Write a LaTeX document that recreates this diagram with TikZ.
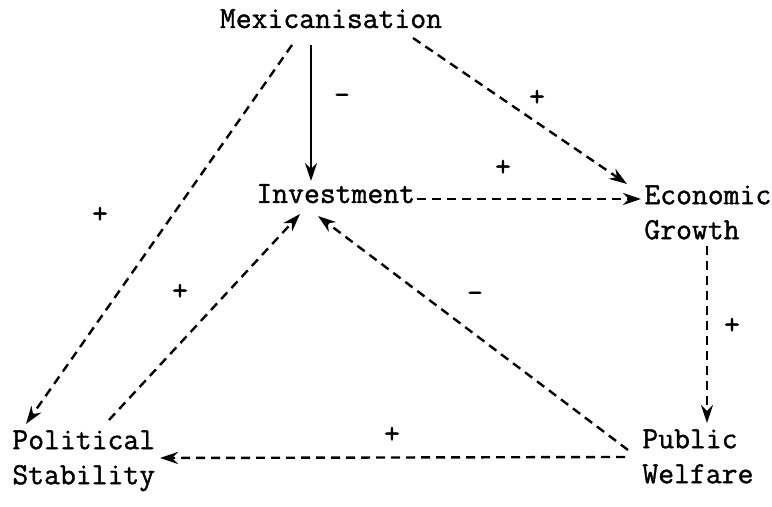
\documentclass[tikz,border=0pt]{standalone}
\usepackage{fontspec}
\setmonofont{Latin Modern Mono}[FakeBold=1.2]
\usepackage{tikz}
\usetikzlibrary{arrows.meta,positioning}

\begin{document}
\begin{tikzpicture}[
  x=0.5pt, y=-0.5pt,
  label/.style={inner sep=0pt,font=\fontsize{15.4}{17.5}\selectfont\ttfamily},
  factor/.style={label,align=left},
  link/.style={->,>={Stealth[length=9pt,width=6pt]},line width=1.2pt},
  dlink/.style={link,dash pattern=on 4.5pt off 3pt}
]
\useasboundingbox (0,0) rectangle (772,507);

% Factors
\node[label,anchor=base] (mex) at (331,28) {Mexicanisation};
\node[label,anchor=base west] (inv) at (256,203) {Investment};
\node[factor,anchor=north west] (eco) at (644,185) {Economic\\Growth};
\node[factor,anchor=north west] (pol) at (12,430) {Political\\Stability};
\node[factor,anchor=north west] (pub) at (642,429) {Public\\Welfare};

% Links
\draw[link] ([shift={(-20,17)}]mex.base) -- ([shift={(55,-22)}]inv.base west);
\draw[dlink] ([shift={(82,10)}]mex.base) -- ([shift={(-17,-1)}]eco.north west);
\draw[dlink] ([shift={(-39,17)}]mex.base) -- ([shift={(14,-6)}]pol.north west);
\draw[dlink] ([shift={(161,-4)}]inv.base west) -- ([shift={(-3,14)}]eco.north west);
\draw[dlink] ([shift={(63,61)}]eco.north west) -- ([shift={(65,-6)}]pub.north west);
\draw[dlink] ([shift={(-17,28)}]pub.north west) -- ([shift={(148,28)}]pol.north west);
\draw[dlink] ([shift={(97,-10)}]pol.north west) -- ([shift={(44,11)}]inv.base west);
\draw[dlink] ([shift={(-14,21)}]pub.north west) -- ([shift={(62,13)}]inv.base west);

% Signs
\node[label] (s-mexinv) at (342,99) {-};
\node[label] (s-mexeco) at (537,98) {+};
\node[label] (s-mexpol) at (100,215) {+};
\node[label] (s-inveco) at (503,168) {+};
\node[label] (s-ecopub) at (732,326) {+};
\node[label] (s-pubpol) at (392,435) {+};
\node[label] (s-polinv) at (180,292) {+};
\node[label] (s-pubinv) at (475,297) {-};

\end{tikzpicture}
\end{document}
